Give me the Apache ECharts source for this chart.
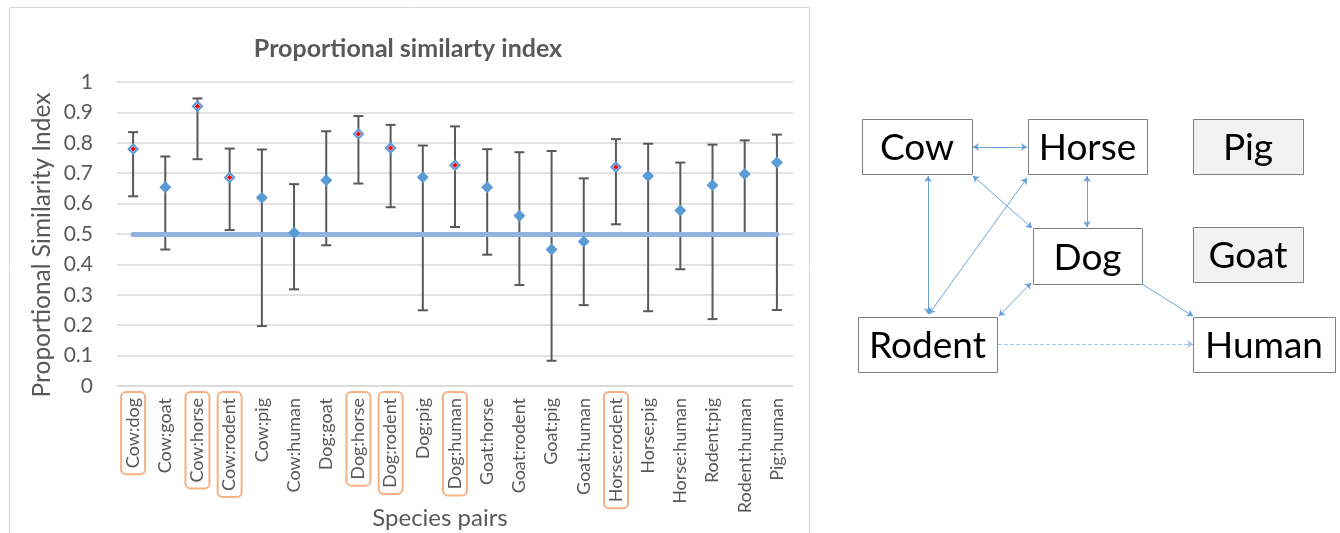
<!doctype html>
<html>
<head>
<meta charset="utf-8">
<title>Proportional similarty index</title>
<script src="https://cdn.jsdelivr.net/npm/echarts@6.0.0/dist/echarts.min.js"></script>
<style>
    body{margin:0;background:#fff;}
    #main{width:1340px;height:533px;}
</style>
</head>
<body>
<div id="main"></div>
<script type="text/javascript">
    // species pairs and their index, with the bar ends
    var categories = ['Cow:dog','Cow:goat','Cow:horse','Cow:rodent','Cow:pig','Cow:human','Dog:goat','Dog:horse','Dog:rodent','Dog:pig','Dog:human','Goat:horse','Goat:rodent','Goat:pig','Goat:human','Horse:rodent','Horse:pig','Horse:human','Rodent:pig','Rodent:human','Pig:human'];
    var psi    = [0.780,0.654,0.920,0.686,0.619,0.504,0.677,0.829,0.783,0.687,0.726,0.654,0.560,0.449,0.475,0.720,0.691,0.577,0.660,0.697,0.735];
    var ciLow  = [0.624,0.449,0.746,0.513,0.197,0.318,0.463,0.666,0.588,0.249,0.523,0.432,0.332,0.083,0.266,0.532,0.246,0.384,0.220,0.500,0.250];
    var ciHigh = [0.835,0.755,0.946,0.781,0.778,0.664,0.838,0.888,0.859,0.791,0.854,0.779,0.769,0.773,0.683,0.812,0.797,0.735,0.794,0.808,0.827];
    var highlighted = ['Cow:dog','Cow:horse','Cow:rodent','Dog:horse','Dog:rodent','Dog:human','Horse:rodent'];
    var threshold = 0.5;
    var yTicks = [0,0.1,0.2,0.3,0.4,0.5,0.6,0.7,0.8,0.9,1];

    // diagram
    var speciesNodes = ['Cow','Horse','Pig','Dog','Goat','Rodent','Human'];
    var unlinkedNodes = ['Pig','Goat'];
    var twoWayLinks = ['Cow-Horse','Cow-Rodent','Cow-Dog','Horse-Rodent','Horse-Dog','Dog-Rodent'];
    var oneWayLinks = ['Dog-Human'];
    var weakLinks = ['Rodent-Human'];

    // diagram layout (pixels)
    var boxLayout = {
        Cow:[862,119,972,174], Horse:[1028,119,1147,174], Pig:[1193,119,1303,174],
        Dog:[1033,228,1142,284], Goat:[1193,227,1303,282],
        Rodent:[858,317,997,372], Human:[1193,317,1335,372]
    };
    var linkEnds = {
        'Cow-Horse':[[973,147],[1027,147]], 'Cow-Rodent':[[928,176],[928,314]],
        'Cow-Dog':[[973,176],[1032,228]], 'Horse-Rodent':[[1027,178],[929,314]],
        'Horse-Dog':[[1087,176],[1087,227]], 'Dog-Rodent':[[1031,283],[999,316]],
        'Dog-Human':[[1142,284],[1193,316]], 'Rodent-Human':[[998,344],[1193,344]]
    };

    var grey = '#595959';
    var myChart = echarts.init(document.getElementById('main'));

    function linkData(list){
        return list.map(function (k) { return {coords: linkEnds[k]}; });
    }

    var option = {
        animation: false,
        textStyle: {fontFamily: 'Lato'},
        title: {
            text: 'Proportional similarty index',
            left: 403, top: 31, textAlign: 'center',
            textStyle: {fontFamily: 'Lato', fontWeight: 'bold', fontSize: 25, color: grey}
        },
        graphic: [
            {type: 'rect', shape: {x: 9.5, y: 7.5, width: 800, height: 540}, style: {fill: 'none', stroke: '#D9D9D9', lineWidth: 1}, silent: true}
        ],
        grid: [
            {left: 117, right: 547, top: 82, bottom: 147, outerBoundsMode: 'none', containLabel: false},
            {left: 830, top: 100, width: 510, height: 290, outerBoundsMode: 'none'}
        ],
        xAxis: [
            {
                type: 'category',
                data: categories,
                boundaryGap: true,
                name: 'Species pairs',
                nameLocation: 'middle',
                nameGap: 120,
                nameMoveOverlap: false,
                nameTextStyle: {fontSize: 24, color: grey, padding: [0, 30, 0, 0]},
                axisLine: {lineStyle: {color: '#D9D9D9', width: 1.5}},
                axisTick: {show: false},
                axisLabel: {
                    interval: 0, rotate: 90, margin: 6,
                    color: grey, fontSize: 18,
                    formatter: function (v) {
                        return highlighted.indexOf(v) >= 0 ? '{hl|' + v + '}' : '{n|' + v + '}';
                    },
                    rich: {
                        hl: {fontSize: 18, lineHeight: 20, color: grey, padding: [3, 6, 3, 6], borderColor: '#F4B183', borderWidth: 2, borderRadius: 5},
                        n: {fontSize: 18, lineHeight: 20, color: grey, padding: [3, 6, 3, 6]}
                    }
                }
            },
            {type: 'value', gridIndex: 1, min: 830, max: 1340, show: false}
        ],
        yAxis: [
            {
                type: 'value',
                min: yTicks[0], max: yTicks[yTicks.length - 1], interval: 0.1,
                name: 'Proportional Similarity Index',
                nameLocation: 'middle',
                nameGap: 62,
                nameMoveOverlap: false,
                nameTextStyle: {fontSize: 24.5, color: grey, padding: [0, 22, 0, 0]},
                axisLine: {show: false},
                axisTick: {show: false},
                axisLabel: {fontSize: 21, color: grey, margin: 24},
                splitLine: {lineStyle: {color: '#D9D9D9', width: 1.5}}
            },
            {type: 'value', gridIndex: 1, min: 100, max: 390, inverse: true, show: false}
        ],
        series: [
            {
                name: 'range',
                type: 'custom',
                z: 1,
                data: categories.map(function (c, i) { return [i, ciLow[i], ciHigh[i]]; }),
                renderItem: function (params, api) {
                    var lo = api.coord([api.value(0), api.value(1)]);
                    var hi = api.coord([api.value(0), api.value(2)]);
                    var h = 5;
                    var st = {stroke: grey, lineWidth: 2};
                    return {type: 'group', children: [
                        {type: 'line', shape: {x1: lo[0], y1: lo[1], x2: hi[0], y2: hi[1]}, style: st},
                        {type: 'line', shape: {x1: hi[0] - h, y1: hi[1], x2: hi[0] + h, y2: hi[1]}, style: st},
                        {type: 'line', shape: {x1: lo[0] - h, y1: lo[1], x2: lo[0] + h, y2: lo[1]}, style: st}
                    ]};
                }
            },
            {
                name: 'PSI',
                type: 'scatter',
                z: 3,
                symbol: 'diamond',
                symbolSize: 12,
                itemStyle: {color: '#5B9BD5', opacity: 1},
                data: psi,
                markLine: {
                    silent: true,
                    symbol: ['none', 'none'],
                    label: {show: false},
                    lineStyle: {color: '#8FB4E0', width: 5, type: 'solid', cap: 'round'},
                    z: 2,
                    data: [[
                        {xAxis: categories[0], yAxis: threshold},
                        {xAxis: categories[categories.length - 1], yAxis: threshold}
                    ]]
                }
            },
            {
                name: 'highlight',
                type: 'scatter',
                z: 4,
                symbol: 'diamond',
                symbolSize: 6,
                itemStyle: {color: '#FF0000', borderColor: '#BDD7EE', borderWidth: 0.8, opacity: 1},
                data: categories.map(function (c, i) { return highlighted.indexOf(c) >= 0 ? psi[i] : '-'; })
            },
            {
                name: 'species',
                type: 'custom',
                xAxisIndex: 1, yAxisIndex: 1,
                data: speciesNodes.map(function (n) { return boxLayout[n]; }),
                renderItem: function (params, api) {
                    var name = speciesNodes[params.dataIndex];
                    var p0 = api.coord([api.value(0), api.value(1)]);
                    var p1 = api.coord([api.value(2), api.value(3)]);
                    var fill = unlinkedNodes.indexOf(name) >= 0 ? '#F2F2F2' : '#FFFFFF';
                    return {type: 'group', children: [
                        {type: 'rect', shape: {x: p0[0] + 0.5, y: p0[1] + 0.5, width: p1[0] - p0[0], height: p1[1] - p0[1]},
                         style: {fill: fill, stroke: '#7F7F7F', lineWidth: 1}},
                        {type: 'text', style: {text: name, x: (p0[0] + p1[0]) / 2, y: (p0[1] + p1[1]) / 2 + 2,
                         align: 'center', verticalAlign: 'middle', font: '37px Lato', fill: '#000'}}
                    ]};
                }
            },
            {
                type: 'lines', coordinateSystem: 'cartesian2d', xAxisIndex: 1, yAxisIndex: 1,
                symbol: ['arrow', 'arrow'], symbolSize: 6,
                lineStyle: {color: '#5B9BD5', width: 1, opacity: 0.9},
                data: linkData(twoWayLinks)
            },
            {
                type: 'lines', coordinateSystem: 'cartesian2d', xAxisIndex: 1, yAxisIndex: 1,
                symbol: ['none', 'arrow'], symbolSize: 6,
                lineStyle: {color: '#5B9BD5', width: 1, opacity: 0.9},
                data: linkData(oneWayLinks)
            },
            {
                type: 'lines', coordinateSystem: 'cartesian2d', xAxisIndex: 1, yAxisIndex: 1,
                symbol: ['none', 'arrow'], symbolSize: 6,
                lineStyle: {color: '#9DBCE4', width: 1, type: 'dashed', opacity: 0.9},
                data: linkData(weakLinks)
            }
        ]
    };

    myChart.setOption(option);
</script>
</body>
</html>
